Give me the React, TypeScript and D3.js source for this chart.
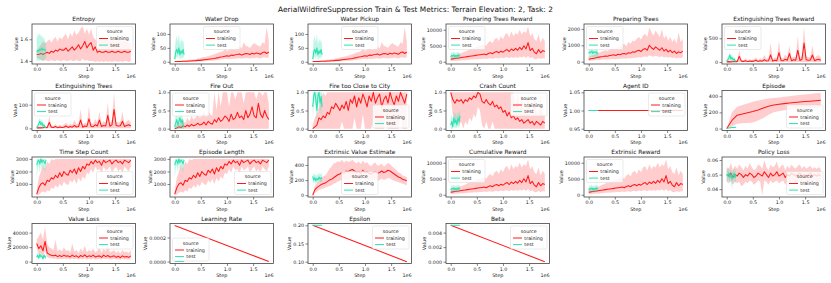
import React, { useEffect, useRef } from 'react';
import * as d3 from 'd3';

const W = 831;
const H = 283;
const FONT = 'DejaVu Sans, sans-serif';
const SUPTITLE = 'AerialWildfireSuppression Train & Test Metrics: Terrain Elevation: 2, Task: 2';

const TRAIN_END = 1.8e6;
const TEST_END = 0.18e6;
const X_DOMAIN: [number, number] = [-0.09e6, 1.89e6];
const X_TICKS = [0, 0.5e6, 1.0e6, 1.5e6];

const TRAIN_COLOR = '#ff1a1a';
const TEST_COLOR = '#2de0b0';

// --- Entropy ---
const entropyMean = [
    1.46, 1.46, 1.47, 1.46, 1.47, 1.48, 1.47, 1.49, 1.48, 1.50,
    1.49, 1.51, 1.50, 1.50, 1.52, 1.49, 1.51, 1.53, 1.50, 1.52,
    1.55, 1.51, 1.54, 1.58, 1.52, 1.55, 1.57, 1.50, 1.53, 1.48,
    1.49, 1.48, 1.48, 1.49, 1.48, 1.48, 1.49, 1.48, 1.48, 1.49,
    1.48, 1.48, 1.49, 1.48, 1.48, 1.49];
const entropyHi = [
    1.50, 1.52, 1.55, 1.58, 1.56, 1.58, 1.60, 1.57, 1.60, 1.62,
    1.58, 1.62, 1.60, 1.63, 1.65, 1.60, 1.66, 1.62, 1.68, 1.64,
    1.66, 1.70, 1.72, 1.65, 1.70, 1.64, 1.70, 1.62, 1.60, 1.58,
    1.62, 1.60, 1.58, 1.61, 1.60, 1.58, 1.62, 1.60, 1.58, 1.60,
    1.62, 1.58, 1.60, 1.58, 1.57, 1.56];
const entropyLo = [
    1.43, 1.42, 1.41, 1.40, 1.41, 1.40, 1.40, 1.41, 1.40, 1.40,
    1.41, 1.40, 1.40, 1.41, 1.40, 1.40, 1.41, 1.40, 1.40, 1.41,
    1.40, 1.40, 1.42, 1.40, 1.41, 1.40, 1.40, 1.40, 1.39, 1.40,
    1.39, 1.40, 1.39, 1.40, 1.39, 1.40, 1.39, 1.40, 1.40, 1.39,
    1.40, 1.39, 1.40, 1.40, 1.39, 1.40];
const entropyTest = [1.48, 1.50, 1.49, 1.51, 1.50, 1.52, 1.50, 1.51, 1.50, 1.50];
const entropyTestHi = [1.60, 1.65, 1.63, 1.66, 1.62, 1.64, 1.60, 1.62, 1.58, 1.56];
const entropyTestLo = [1.40, 1.40, 1.41, 1.40, 1.42, 1.40, 1.41, 1.40, 1.42, 1.43];

// --- Water drop / pickup ---
const waterMean = [
    1, 1, 1, 1, 2, 2, 2, 3, 3, 4,
    4, 5, 5, 6, 7, 8, 9, 10, 11, 12,
    14, 15, 17, 18, 20, 22, 20, 24, 23, 25,
    26, 28, 24, 27, 30, 29, 26, 31, 28, 32,
    30, 27, 33, 35, 30, 35];
const waterHi = [
    3, 3, 3, 4, 5, 5, 6, 7, 8, 9,
    10, 12, 13, 15, 17, 18, 20, 22, 25, 27,
    30, 33, 35, 38, 45, 40, 42, 48, 45, 45,
    50, 55, 48, 70, 58, 55, 50, 60, 68, 62,
    58, 55, 70, 65, 125, 75];
const waterLo = [
    0, 0, 0, 0, 0, 0, 0, 0, 0, 1,
    1, 1, 2, 2, 2, 3, 3, 4, 4, 5,
    6, 6, 8, 8, 10, 10, 9, 11, 10, 12,
    12, 13, 11, 13, 14, 13, 12, 14, 13, 15,
    14, 12, 15, 16, 14, 16];
const waterTest = [10, 35, 45, 30, 50, 25, 40, 30, 45, 25];
const waterTestHi = [40, 80, 95, 70, 100, 60, 85, 70, 80, 55];
const waterTestLo = [0, 10, 20, 10, 25, 5, 15, 10, 20, 10];

// --- Rewards (preparing trees reward, cumulative, extrinsic) ---
const rewardMean = [
    800, 900, 1000, 1100, 1200, 1300, 1400, 1500, 1600, 1700,
    1800, 1900, 2000, 2100, 2200, 2300, 2400, 2200, 2600, 2800,
    2500, 3000, 3200, 2800, 3300, 3000, 3500, 3800, 3200, 4000,
    3500, 4200, 3600, 4500, 3800, 5000, 4000, 6000, 3500, 4200,
    3000, 2500, 3800, 2800, 3500, 3200];
const rewardHi = [
    1500, 1800, 2000, 2200, 2500, 2600, 3000, 3200, 3500, 3800,
    4000, 4200, 4500, 4800, 5000, 5200, 5500, 5000, 6000, 6500,
    5800, 7000, 7500, 6500, 8000, 7000, 8500, 9000, 7500, 9500,
    8000, 9000, 8500, 10000, 8500, 9500, 9000, 11000, 8000, 9000,
    7000, 6500, 8500, 6000, 7500, 6500];
const rewardLo = [
    200, 200, 300, 300, 400, 400, 500, 500, 600, 600,
    700, 700, 800, 800, 900, 900, 1000, 900, 1000, 1100,
    900, 1200, 1200, 1000, 1300, 1100, 1300, 1400, 1100, 1500,
    1200, 1500, 1200, 1600, 1300, 1700, 1200, 1800, 1100, 1400,
    900, 800, 1200, 900, 1100, 1000];
const rewardTest = [1500, 2000, 1800, 2200, 1600, 2000, 1700, 2100, 1800, 1900];
const rewardTestHi = [2500, 3000, 2800, 3200, 2600, 3000, 2700, 3100, 2800, 2900];
const rewardTestLo = [500, 1000, 800, 1200, 600, 1000, 700, 1100, 800, 900];

// --- Preparing trees ---
const prepMean = [
    150, 180, 200, 220, 250, 280, 300, 320, 350, 330,
    380, 400, 420, 380, 450, 430, 480, 500, 460, 550,
    520, 600, 580, 650, 700, 620, 750, 800, 700, 1000,
    850, 750, 900, 800, 700, 850, 650, 750, 600, 700,
    550, 650, 500, 600, 550, 650];
const prepHi = [
    300, 350, 400, 450, 500, 550, 600, 650, 700, 650,
    750, 800, 850, 800, 900, 950, 1000, 1100, 950, 1200,
    1100, 1300, 1250, 1400, 1500, 1350, 1600, 1700, 1500, 2100,
    1800, 1600, 1900, 1700, 1500, 2000, 1400, 1600, 1300, 1500,
    1200, 1400, 1100, 1800, 1200, 1400];
const prepLo = [
    50, 60, 80, 90, 100, 100, 120, 130, 140, 130,
    150, 160, 170, 150, 180, 170, 190, 200, 180, 220,
    200, 240, 230, 260, 280, 250, 300, 320, 280, 400,
    340, 300, 360, 320, 280, 340, 260, 300, 240, 280,
    220, 260, 200, 240, 220, 260];
const prepTest = [500, 600, 550, 650, 500, 600, 550, 620, 500, 550];
const prepTestHi = [700, 800, 750, 850, 700, 800, 750, 820, 700, 750];
const prepTestLo = [200, 300, 250, 350, 200, 300, 250, 320, 200, 250];

// --- Extinguishing trees reward ---
const extRewMean = [
    5, 10, 5, 8, 15, 10, 120, 20, 15, 30,
    10, 25, 15, 20, 40, 15, 30, 20, 50, 25,
    30, 150, 20, 40, 30, 200, 35, 30, 60, 40,
    180, 30, 50, 40, 250, 35, 60, 400, 50, 40,
    45, 150, 30, 50, 60, 40];
const extRewHi = [
    20, 30, 20, 30, 40, 30, 250, 50, 40, 80,
    30, 60, 40, 60, 100, 40, 80, 60, 150, 70,
    80, 400, 60, 100, 80, 450, 90, 80, 160, 100,
    350, 80, 120, 100, 550, 90, 150, 750, 130, 100,
    110, 350, 80, 130, 150, 100];
const extRewLo = [
    0, 0, 0, 0, 0, 0, 0, 0, 0, 0,
    0, 0, 0, 0, 0, 0, 0, 0, 0, 0,
    0, 0, 0, 0, 0, 0, 0, 0, 0, 0,
    0, 0, 0, 0, 0, 0, 0, 0, 0, 0,
    0, 0, 0, 0, 0, 0];
const extRewTest = [20, 50, 80, 150, 60, 100, 40, 70, 30, 20];
const extRewTestHi = [50, 100, 150, 200, 120, 180, 80, 120, 60, 40];
const extRewTestLo = [0, 10, 20, 50, 10, 30, 0, 10, 0, 0];

// --- Extinguishing trees ---
const extMean = [
    2, 3, 2, 3, 5, 3, 25, 5, 4, 8,
    3, 6, 4, 5, 10, 4, 8, 5, 12, 6,
    8, 35, 5, 10, 8, 40, 8, 7, 15, 10,
    35, 8, 12, 10, 55, 9, 15, 80, 12, 10,
    11, 30, 8, 12, 15, 10];
const extHi = [
    5, 8, 5, 8, 10, 8, 50, 12, 10, 18,
    8, 15, 10, 15, 25, 10, 20, 15, 35, 18,
    20, 80, 15, 25, 20, 95, 22, 20, 40, 25,
    70, 20, 30, 25, 110, 22, 35, 150, 30, 25,
    28, 70, 20, 30, 35, 25];
const extLo = [
    0, 0, 0, 0, 0, 0, 0, 0, 0, 0,
    0, 0, 0, 0, 0, 0, 0, 0, 0, 0,
    0, 0, 0, 0, 0, 0, 0, 0, 0, 0,
    0, 0, 0, 0, 0, 0, 0, 0, 0, 0,
    0, 0, 0, 0, 0, 0];
const extTest = [5, 10, 20, 30, 15, 25, 10, 15, 5, 3];
const extTestHi = [10, 20, 35, 45, 30, 40, 20, 25, 10, 8];
const extTestLo = [0, 0, 5, 10, 3, 8, 0, 3, 0, 0];

// --- Fire out ---
const fireOutMean = [
    0, 0.02, 0.05, 0.03, 0.08, 0.05, 0.1, 0.06, 0.12, 0.08,
    0.1, 0.15, 0.1, 0.12, 0.18, 0.1, 0.2, 0.15, 0.12, 0.25,
    0.18, 0.3, 0.2, 0.25, 0.35, 0.3, 0.2, 0.4, 0.25, 0.3,
    0.45, 0.3, 0.35, 0.25, 0.5, 0.3, 0.4, 0.6, 0.35, 0.3,
    0.7, 0.4, 0.3, 0.5, 0.35, 0.25];
const fireOutHi = [
    0.05, 0.1, 0.15, 0.12, 0.25, 0.15, 0.3, 0.2, 0.35, 0.25,
    0.3, 0.4, 0.3, 0.35, 0.5, 0.3, 0.5, 0.4, 0.35, 1,
    0.5, 1, 0.6, 1, 1, 1, 0.6, 1, 1, 0.8,
    1, 1, 1, 0.7, 1, 1, 1, 1, 1, 0.8,
    1, 1, 0.9, 1, 1, 0.7];
const fireOutLo = [
    0, 0, 0, 0, 0, 0, 0, 0, 0, 0,
    0, 0, 0, 0, 0, 0, 0, 0, 0, 0,
    0, 0, 0, 0, 0, 0, 0, 0, 0, 0,
    0, 0, 0, 0, 0, 0, 0, 0, 0, 0,
    0, 0, 0, 0, 0, 0];
const fireOutTest = [0.05, 0.15, 0.25, 0.1, 0.2, 0.3, 0.15, 0.25, 0.1, 0.05];
const fireOutTestHi = [0.2, 0.35, 0.4, 0.3, 0.35, 0.45, 0.3, 0.4, 0.25, 0.15];
const fireOutTestLo = [0, 0, 0, 0, 0, 0, 0, 0, 0, 0];

// --- Fire too close to city ---
const closeMean = [
    0, 0.05, 0.1, 0.3, 0.25, 0.35, 0.3, 0.45, 0.4, 0.6,
    0.55, 0.7, 0.6, 0.5, 0.65, 0.55, 0.75, 0.5, 0.8, 0.7,
    0.9, 0.6, 0.85, 0.7, 0.95, 0.8, 0.6, 0.9, 0.75, 1,
    0.7, 0.85, 0.95, 0.6, 0.8, 0.9, 0.7, 1, 0.8, 0.65,
    0.9, 0.75, 1, 0.85, 0.7, 0.95];
const closeHi = [
    0.1, 0.3, 0.4, 0.6, 0.8, 1, 0.9, 1, 1, 1,
    1, 1, 1, 1, 1, 1, 1, 1, 1, 1,
    1, 1, 1, 1, 1, 1, 1, 1, 1, 1,
    1, 1, 1, 1, 1, 1, 1, 1, 1, 1,
    1, 1, 1, 1, 1, 1];
const closeLo = [
    0, 0, 0, 0, 0, 0, 0, 0, 0, 0,
    0, 0, 0, 0, 0.2, 0, 0, 0, 0, 0,
    0.3, 0, 0, 0, 0.4, 0, 0, 0, 0, 0.3,
    0, 0, 0, 0, 0, 0.3, 0, 0, 0, 0,
    0, 0, 0.4, 0, 0, 0];
const closeTest = [0.6, 0.9, 1, 0.8, 0.5, 0.9, 1, 0.7, 0.9, 0.6];
const closeTestHi = [1, 1, 1, 1, 1, 1, 1, 1, 1, 1];
const closeTestLo = [0.3, 0.6, 0.8, 0.5, 0.2, 0.6, 0.8, 0.4, 0.6, 0.3];

// --- Crash count ---
const crashMean = [
    1, 0.8, 0.7, 0.8, 0.75, 0.8, 0.7, 0.8, 0.75, 0.85,
    0.8, 0.9, 0.85, 1, 0.95, 0.75, 0.7, 0.8, 0.7, 0.65,
    0.75, 0.6, 0.65, 0.55, 0.6, 0.45, 0.5, 0.35, 0.45, 0.3,
    0.35, 0.25, 0.3, 0.2, 0.25, 0.15, 0.2, 0.25, 0.15, 0.2,
    0.1, 0.2, 0.15, 0.1, 0.2, 0.15];
const crashHi = [
    1, 1, 1, 1, 1, 1, 1, 1, 1, 1,
    1, 1, 1, 1, 1, 1, 1, 1, 1, 1,
    1, 1, 1, 1, 1, 1, 1, 1, 1, 1,
    1, 0.6, 1, 0.5, 1, 0.4, 0.5, 1, 0.4, 0.5,
    1, 0.45, 0.4, 1, 0.45, 0.4];
const crashLo = [
    0.9, 0.4, 0.2, 0.3, 0.1, 0.2, 0, 0.2, 0.1, 0.3,
    0.2, 0.4, 0.3, 0.6, 0.5, 0.1, 0, 0.2, 0, 0,
    0.2, 0, 0, 0, 0, 0, 0, 0, 0, 0,
    0, 0, 0, 0, 0, 0, 0, 0, 0, 0,
    0, 0, 0, 0, 0, 0];
const crashTest = [0.1, 0.2, 0.05, 0.3, 0.15, 0.25, 0.1, 0.3, 0.2, 0.35];
const crashTestHi = [0.3, 0.4, 0.25, 0.5, 0.35, 0.45, 0.3, 0.5, 0.4, 0.55];
const crashTestLo = [0, 0, 0, 0.1, 0, 0.05, 0, 0.1, 0, 0.15];

// --- Agent ID ---
const agentMean = [1, 1];
const agentTest = [1, 1];

// --- Episode ---
const episodeMean = [0, 100, 165, 180, 195, 210, 230, 255, 275, 290, 300, 308, 315, 322, 328, 333, 338, 344, 350];
const episodeHi = [0, 200, 270, 290, 310, 330, 345, 360, 370, 378, 385, 392, 400, 407, 415, 422, 428, 435, 440];
const episodeLo = [0, 30, 60, 65, 70, 75, 100, 130, 170, 200, 215, 225, 232, 238, 243, 248, 252, 256, 260];
const episodeTest = [0, 5, 8, 10, 11, 12, 13, 14, 15, 15];
const episodeTestHi = [0, 8, 12, 15, 17, 18, 19, 20, 21, 22];
const episodeTestLo = [0, 2, 4, 5, 6, 7, 8, 9, 10, 10];

// --- Time step count / episode length ---
const stepsMean = [
    200, 700, 1000, 1100, 900, 1300, 1200, 1500, 1400, 1700,
    1500, 1900, 1600, 2000, 1800, 1700, 2100, 1900, 2200, 1800,
    2300, 2000, 2400, 2200, 2600, 2500, 2800, 2600, 2900, 2700,
    2800, 2500, 2900, 2700, 2800, 2900, 2600, 2800, 2900, 2700,
    2800, 2600, 2900, 2800, 2700, 2900];
const stepsHi = [
    500, 1500, 2000, 2500, 2200, 2800, 2600, 3000, 2900, 3000,
    3000, 3000, 3000, 3000, 3000, 3000, 3000, 3000, 3000, 3000,
    3000, 3000, 3000, 3000, 3000, 3000, 3000, 3000, 3000, 3000,
    3000, 3000, 3000, 3000, 3000, 3000, 3000, 3000, 3000, 3000,
    3000, 3000, 3000, 3000, 3000, 3000];
const stepsLo = [
    100, 150, 300, 400, 300, 500, 400, 700, 600, 900,
    700, 1000, 800, 1200, 1000, 900, 1300, 1100, 1400, 1000,
    1500, 1200, 1600, 1400, 1900, 1800, 2200, 1900, 2400, 2100,
    2200, 1800, 2400, 2100, 2200, 2400, 1900, 2200, 2400, 2000,
    2200, 1900, 2400, 2200, 2000, 2400];
const stepsTest = [2500, 2800, 2900, 2600, 3000, 2700, 2900, 2800, 2600, 2900];
const stepsTestHi = [3000, 3000, 3000, 3000, 3000, 3000, 3000, 3000, 3000, 3000];
const stepsTestLo = [1500, 2200, 2500, 1900, 2700, 2000, 2500, 2300, 1900, 2500];

// --- Extrinsic value estimate ---
const valueEstMean = [
    0, 70, 100, 120, 140, 150, 160, 180, 200, 210,
    230, 250, 270, 280, 300, 290, 320, 310, 330, 340,
    320, 300, 310, 290, 330, 300, 310, 290, 280, 300,
    310, 290, 300, 320, 300, 310, 330, 320, 300, 280,
    260, 240, 230, 210, 200, 190];
const valueEstHi = [
    0, 120, 160, 180, 220, 250, 260, 300, 350, 380,
    420, 430, 450, 440, 470, 430, 460, 440, 450, 470,
    440, 420, 450, 410, 460, 420, 440, 400, 380, 420,
    430, 390, 400, 420, 380, 400, 430, 410, 380, 360,
    330, 300, 290, 260, 250, 240];
const valueEstLo = [
    0, 30, 50, 70, 80, 90, 100, 110, 120, 130,
    150, 160, 180, 190, 200, 190, 210, 200, 220, 230,
    210, 200, 210, 190, 220, 200, 210, 190, 180, 200,
    210, 190, 200, 220, 200, 210, 230, 220, 200, 190,
    180, 170, 160, 150, 140, 130];
const valueEstTest = [250, 200, 230, 190, 220, 200, 240, 210, 230, 220];
const valueEstTestHi = [300, 260, 290, 250, 280, 260, 300, 270, 290, 280];
const valueEstTestLo = [170, 150, 180, 140, 170, 150, 190, 160, 180, 170];

// --- Policy loss ---
const policyMean = [
    0.050, 0.049, 0.051, 0.048, 0.050, 0.049, 0.051, 0.050, 0.048, 0.050,
    0.049, 0.051, 0.050, 0.048, 0.049, 0.051, 0.050, 0.049, 0.052, 0.050,
    0.048, 0.051, 0.049, 0.050, 0.052, 0.049, 0.050, 0.051, 0.048, 0.050,
    0.049, 0.051, 0.050, 0.049, 0.050, 0.051, 0.049, 0.050, 0.049, 0.050,
    0.051, 0.049, 0.050, 0.049, 0.050, 0.049];
const policyHi = [
    0.055, 0.054, 0.058, 0.053, 0.056, 0.054, 0.057, 0.055, 0.053, 0.056,
    0.054, 0.058, 0.055, 0.053, 0.054, 0.057, 0.056, 0.054, 0.060, 0.055,
    0.053, 0.057, 0.055, 0.056, 0.059, 0.054, 0.056, 0.057, 0.053, 0.056,
    0.054, 0.057, 0.055, 0.054, 0.056, 0.057, 0.054, 0.056, 0.054, 0.055,
    0.056, 0.054, 0.055, 0.054, 0.055, 0.054];
const policyLo = [
    0.045, 0.044, 0.046, 0.043, 0.045, 0.044, 0.045, 0.042, 0.043, 0.045,
    0.044, 0.046, 0.045, 0.043, 0.044, 0.046, 0.045, 0.036, 0.046, 0.045,
    0.043, 0.046, 0.044, 0.045, 0.046, 0.044, 0.045, 0.046, 0.043, 0.045,
    0.044, 0.046, 0.045, 0.044, 0.045, 0.046, 0.044, 0.045, 0.044, 0.045,
    0.046, 0.044, 0.045, 0.044, 0.045, 0.044];
const policyTest = [0.050, 0.049, 0.051, 0.048, 0.050, 0.047, 0.049, 0.051, 0.048, 0.050];
const policyTestHi = [0.054, 0.053, 0.055, 0.052, 0.054, 0.051, 0.053, 0.055, 0.052, 0.054];
const policyTestLo = [0.046, 0.045, 0.047, 0.044, 0.046, 0.040, 0.045, 0.047, 0.044, 0.046];

// --- Value loss ---
const vlossMean = [
    25000, 18000, 22000, 15000, 28000, 12000, 10000, 9000, 8000, 9000,
    7000, 8500, 7000, 9000, 7500, 8000, 6500, 9000, 7000, 8000,
    6000, 8500, 7000, 9500, 6500, 8000, 7000, 9000, 6500, 7500,
    8000, 6000, 9000, 7000, 8500, 6500, 7000, 8000, 6000, 7500,
    5500, 8000, 6500, 7000, 6000, 8000];
const vlossHi = [
    30000, 35000, 40000, 30000, 48000, 25000, 20000, 18000, 16000, 30000,
    14000, 17000, 14000, 20000, 15000, 16000, 13000, 25000, 14000, 16000,
    12000, 18000, 14000, 22000, 13000, 16000, 14000, 18000, 13000, 15000,
    20000, 12000, 18000, 14000, 25000, 13000, 14000, 16000, 12000, 15000,
    11000, 16000, 13000, 14000, 12000, 16000];
const vlossLo = [
    18000, 10000, 12000, 8000, 15000, 6000, 5000, 4500, 4000, 4500,
    3500, 4000, 3500, 4500, 3500, 4000, 3000, 4500, 3500, 4000,
    3000, 4000, 3500, 4500, 3000, 4000, 3500, 4500, 3000, 3500,
    4000, 3000, 4500, 3500, 4000, 3000, 3500, 4000, 3000, 3500,
    2500, 4000, 3000, 3500, 3000, 4000];
const vlossTest = [6000, 9000, 5000, 10000, 7000, 8000, 4000, 9000, 6000, 7000];
const vlossTestHi = [9000, 13000, 8000, 14000, 10000, 12000, 7000, 12000, 9000, 10000];
const vlossTestLo = [3000, 5000, 2000, 6000, 4000, 5000, 2000, 6000, 3000, 4000];

// --- Schedules ---
const lrMean = [0.0003, 0];
const lrTest = [0, 0];
const epsMean = [0.2, 0.1];
const epsTest = [0.2, 0.2];
const betaMean = [0.005, 0];
const betaTest = [0.005, 0.005];

interface Series { mean: number[]; lo?: number[]; hi?: number[] }
type Loc = 'ur' | 'ul' | 'uc' | 'lr' | 'lc' | 'll';
interface Panel {
    title: string;
    train: Series;
    test: Series;
    yDomain: [number, number];
    yTicks: number[];
    digits: number;
    legend: Loc;
}

const panels: Panel[] = [
    { title: 'Entropy', train: { mean: entropyMean, lo: entropyLo, hi: entropyHi }, test: { mean: entropyTest, lo: entropyTestLo, hi: entropyTestHi }, yDomain: [1.372, 1.741], yTicks: [1.4, 1.6], digits: 1, legend: 'ur' },
    { title: 'Water Drop', train: { mean: waterMean, lo: waterLo, hi: waterHi }, test: { mean: waterTest, lo: waterTestLo, hi: waterTestHi }, yDomain: [-8, 136], yTicks: [0, 50, 100], digits: 0, legend: 'uc' },
    { title: 'Water Pickup', train: { mean: waterMean, lo: waterLo, hi: waterHi }, test: { mean: waterTest, lo: waterTestLo, hi: waterTestHi }, yDomain: [-8, 136], yTicks: [0, 50, 100], digits: 0, legend: 'uc' },
    { title: 'Preparing Trees Reward', train: { mean: rewardMean, lo: rewardLo, hi: rewardHi }, test: { mean: rewardTest, lo: rewardTestLo, hi: rewardTestHi }, yDomain: [-700, 11800], yTicks: [0, 5000, 10000], digits: 0, legend: 'ul' },
    { title: 'Preparing Trees', train: { mean: prepMean, lo: prepLo, hi: prepHi }, test: { mean: prepTest, lo: prepTestLo, hi: prepTestHi }, yDomain: [-140, 2300], yTicks: [0, 1000, 2000], digits: 0, legend: 'ul' },
    { title: 'Extinguishing Trees Reward', train: { mean: extRewMean, lo: extRewLo, hi: extRewHi }, test: { mean: extRewTest, lo: extRewTestLo, hi: extRewTestHi }, yDomain: [-40, 800], yTicks: [0, 500], digits: 0, legend: 'ul' },

    { title: 'Extinguishing Trees', train: { mean: extMean, lo: extLo, hi: extHi }, test: { mean: extTest, lo: extTestLo, hi: extTestHi }, yDomain: [-9, 160], yTicks: [0, 100], digits: 0, legend: 'ul' },
    { title: 'Fire Out', train: { mean: fireOutMean, lo: fireOutLo, hi: fireOutHi }, test: { mean: fireOutTest, lo: fireOutTestLo, hi: fireOutTestHi }, yDomain: [-0.05, 1.05], yTicks: [0, 0.5, 1], digits: 1, legend: 'ul' },
    { title: 'Fire too Close to City', train: { mean: closeMean, lo: closeLo, hi: closeHi }, test: { mean: closeTest, lo: closeTestLo, hi: closeTestHi }, yDomain: [-0.05, 1.05], yTicks: [0, 0.5, 1], digits: 1, legend: 'lr' },
    { title: 'Crash Count', train: { mean: crashMean, lo: crashLo, hi: crashHi }, test: { mean: crashTest, lo: crashTestLo, hi: crashTestHi }, yDomain: [-0.05, 1.05], yTicks: [0, 0.5, 1], digits: 1, legend: 'ur' },
    { title: 'Agent ID', train: { mean: agentMean }, test: { mean: agentTest }, yDomain: [0.945, 1.055], yTicks: [0.95, 1.0, 1.05], digits: 2, legend: 'ur' },
    { title: 'Episode', train: { mean: episodeMean, lo: episodeLo, hi: episodeHi }, test: { mean: episodeTest, lo: episodeTestLo, hi: episodeTestHi }, yDomain: [-24, 470], yTicks: [0, 200, 400], digits: 0, legend: 'lr' },

    { title: 'Time Step Count', train: { mean: stepsMean, lo: stepsLo, hi: stepsHi }, test: { mean: stepsTest, lo: stepsTestLo, hi: stepsTestHi }, yDomain: [-30, 3150], yTicks: [1000, 2000, 3000], digits: 0, legend: 'lr' },
    { title: 'Episode Length', train: { mean: stepsMean, lo: stepsLo, hi: stepsHi }, test: { mean: stepsTest, lo: stepsTestLo, hi: stepsTestHi }, yDomain: [-30, 3150], yTicks: [1000, 2000, 3000], digits: 0, legend: 'lr' },
    { title: 'Extrinsic Value Estimate', train: { mean: valueEstMean, lo: valueEstLo, hi: valueEstHi }, test: { mean: valueEstTest, lo: valueEstTestLo, hi: valueEstTestHi }, yDomain: [-24, 505], yTicks: [0, 200, 400], digits: 0, legend: 'lc' },
    { title: 'Cumulative Reward', train: { mean: rewardMean, lo: rewardLo, hi: rewardHi }, test: { mean: rewardTest, lo: rewardTestLo, hi: rewardTestHi }, yDomain: [-700, 11800], yTicks: [0, 5000, 10000], digits: 0, legend: 'ul' },
    { title: 'Extrinsic Reward', train: { mean: rewardMean, lo: rewardLo, hi: rewardHi }, test: { mean: rewardTest, lo: rewardTestLo, hi: rewardTestHi }, yDomain: [-700, 11800], yTicks: [0, 5000, 10000], digits: 0, legend: 'ul' },
    { title: 'Policy Loss', train: { mean: policyMean, lo: policyLo, hi: policyHi }, test: { mean: policyTest, lo: policyTestLo, hi: policyTestHi }, yDomain: [0.0346, 0.0621], yTicks: [0.04, 0.05, 0.06], digits: 2, legend: 'lr' },

    { title: 'Value Loss', train: { mean: vlossMean, lo: vlossLo, hi: vlossHi }, test: { mean: vlossTest, lo: vlossTestLo, hi: vlossTestHi }, yDomain: [-2500, 52500], yTicks: [0, 20000, 40000], digits: 0, legend: 'ur' },
    { title: 'Learning Rate', train: { mean: lrMean }, test: { mean: lrTest }, yDomain: [-0.000016, 0.000316], yTicks: [0, 0.0002], digits: 4, legend: 'll' },
    { title: 'Epsilon', train: { mean: epsMean }, test: { mean: epsTest }, yDomain: [0.095, 0.205], yTicks: [0.1, 0.15, 0.2], digits: 2, legend: 'ur' },
    { title: 'Beta', train: { mean: betaMean }, test: { mean: betaTest }, yDomain: [-0.00025, 0.00525], yTicks: [0, 0.002, 0.004], digits: 3, legend: 'ur' },
];

const COLS = 6;
const AX_LEFT0 = 32;
const COL_STEP = 138;
const AX_W = 103.5;
const AX_TOP0 = 24;
const ROW_STEP = 66.5;
const AX_H = 40;

const LEG_W = 36.5;
const LEG_H = 23;
const LEG_PAD = 2.5;

const legendOrigin = (loc: Loc): [number, number] => {
    const xl = LEG_PAD;
    const xr = AX_W - LEG_PAD - LEG_W;
    const xc = (AX_W - LEG_W) / 2;
    const yt = LEG_PAD;
    const yb = AX_H - LEG_PAD - LEG_H;
    switch (loc) {
        case 'ul': return [xl, yt];
        case 'uc': return [xc, yt];
        case 'lr': return [xr, yb];
        case 'lc': return [xc, yb];
        case 'll': return [xl, yb];
        default: return [xr, yt];
    }
};

const drawChart = (svgEl: SVGSVGElement) => {
    const svg = d3.select(svgEl);
    svg.selectAll('*').remove();

    svg.append('rect').attr('width', W).attr('height', H).attr('fill', '#fff');

    svg.append('text')
        .attr('x', W / 2)
        .attr('y', 12)
        .attr('text-anchor', 'middle')
        .style('font-family', FONT)
        .style('font-size', '7.4px')
        .style('fill', '#111')
        .text(SUPTITLE);

    const x = d3.scaleLinear().domain(X_DOMAIN).range([0, AX_W]);

    panels.forEach((p, idx) => {
        const col = idx % COLS;
        const row = Math.floor(idx / COLS);
        const left = AX_LEFT0 + col * COL_STEP;
        const top = AX_TOP0 + row * ROW_STEP;
        const g = svg.append('g').attr('transform', `translate(${left}, ${top})`);
        const y = d3.scaleLinear().domain(p.yDomain).range([AX_H, 0]);

        const clipId = `clip-${idx}`;
        g.append('clipPath').attr('id', clipId)
            .append('rect').attr('width', AX_W).attr('height', AX_H);
        const plot = g.append('g').attr('clip-path', `url(#${clipId})`);

        const drawSeries = (s: Series, end: number, color: string, bandOpacity: number) => {
            const n = s.mean.length;
            const xi = (i: number) => x((i * end) / (n - 1));
            const line = d3.line<number>().x((_d, i) => xi(i)).y(d => y(d));
            plot.append('path')
                .datum(s.mean)
                .attr('d', line)
                .attr('fill', 'none')
                .attr('stroke', color)
                .attr('stroke-width', 1.05)
                .attr('stroke-linejoin', 'round');
            if (s.lo && s.hi) {
                const lo = s.lo;
                const area = d3.area<number>()
                    .x((_d, i) => xi(i))
                    .y0((_d, i) => y(lo[i]))
                    .y1(d => y(d));
                plot.append('path')
                    .datum(s.hi)
                    .attr('d', area)
                    .attr('fill', color)
                    .attr('fill-opacity', bandOpacity)
                    .attr('stroke', 'none');
            }
        };

        drawSeries(p.train, TRAIN_END, TRAIN_COLOR, 0.22);
        drawSeries(p.test, TEST_END, TEST_COLOR, 0.3);

        // --- Axes ---
        const xAxisG = g.append('g')
            .attr('transform', `translate(0, ${AX_H})`)
            .call(d3.axisBottom(x).tickValues(X_TICKS).tickSize(2.5).tickPadding(1.5)
                .tickFormat(d => (Number(d) / 1e6).toFixed(1)));
        const yAxisG = g.append('g')
            .call(d3.axisLeft(y).tickValues(p.yTicks).tickSize(2.5).tickPadding(1.5)
                .tickFormat(d => Number(d).toFixed(p.digits)));

        [xAxisG, yAxisG].forEach(a => {
            a.select('.domain').remove();
            a.attr('font-family', FONT).attr('font-size', 4.8);
            a.selectAll('line').attr('stroke', '#333').attr('stroke-width', 0.6);
            a.selectAll('text').attr('fill', '#222');
        });

        g.append('rect')
            .attr('width', AX_W)
            .attr('height', AX_H)
            .attr('fill', 'none')
            .attr('stroke', '#444')
            .attr('stroke-width', 0.8);

        // --- Labels ---
        g.append('text')
            .attr('x', AX_W / 2)
            .attr('y', -2.6)
            .attr('text-anchor', 'middle')
            .style('font-family', FONT)
            .style('font-size', '5.9px')
            .style('fill', '#111')
            .text(p.title);

        g.append('text')
            .attr('x', AX_W / 2)
            .attr('y', AX_H + 13.8)
            .attr('text-anchor', 'middle')
            .style('font-family', FONT)
            .style('font-size', '4.9px')
            .style('fill', '#222')
            .text('Step');

        g.append('text')
            .attr('x', AX_W)
            .attr('y', AX_H + 13.8)
            .attr('text-anchor', 'end')
            .style('font-family', FONT)
            .style('font-size', '4.8px')
            .style('fill', '#222')
            .text('1e6');

        const yBox = (yAxisG.node() as SVGGElement).getBBox();
        const ylx = yBox.x - 2.2;
        g.append('text')
            .attr('transform', `translate(${ylx}, ${AX_H / 2}) rotate(-90)`)
            .attr('text-anchor', 'middle')
            .style('font-family', FONT)
            .style('font-size', '4.9px')
            .style('fill', '#222')
            .text('Value');

        // --- Legend ---
        const [lx, ly] = legendOrigin(p.legend);
        const leg = g.append('g').attr('transform', `translate(${lx}, ${ly})`);
        leg.append('rect')
            .attr('width', LEG_W)
            .attr('height', LEG_H)
            .attr('rx', 1.5)
            .attr('fill', '#fff')
            .attr('fill-opacity', 0.8)
            .attr('stroke', '#d6d6d6')
            .attr('stroke-width', 0.5);
        leg.append('text')
            .attr('x', LEG_W / 2)
            .attr('y', 5.2)
            .attr('dy', '0.35em')
            .attr('text-anchor', 'middle')
            .style('font-family', FONT)
            .style('font-size', '4.8px')
            .style('fill', '#222')
            .text('source');
        const items = [
            { label: 'training', color: TRAIN_COLOR },
            { label: 'test', color: TEST_COLOR },
        ];
        items.forEach((it, i) => {
            const iy = 12 + i * 6.6;
            leg.append('line')
                .attr('x1', 2.5).attr('x2', 11.5)
                .attr('y1', iy).attr('y2', iy)
                .attr('stroke', it.color)
                .attr('stroke-width', 1);
            leg.append('text')
                .attr('x', 13.8)
                .attr('y', iy)
                .attr('dy', '0.35em')
                .style('font-family', FONT)
                .style('font-size', '4.8px')
                .style('fill', '#222')
                .text(it.label);
        });
    });
};

const App: React.FC = () => {
    const svgRef = useRef<SVGSVGElement | null>(null);

    useEffect(() => {
        if (svgRef.current) drawChart(svgRef.current);
    }, []);

    return (
        <svg
            ref={svgRef}
            width={W}
            height={H}
            viewBox={`0 0 ${W} ${H}`}
            style={{ display: 'block', position: 'absolute', left: 0, top: 0 }}
        />
    );
};

export default App;
